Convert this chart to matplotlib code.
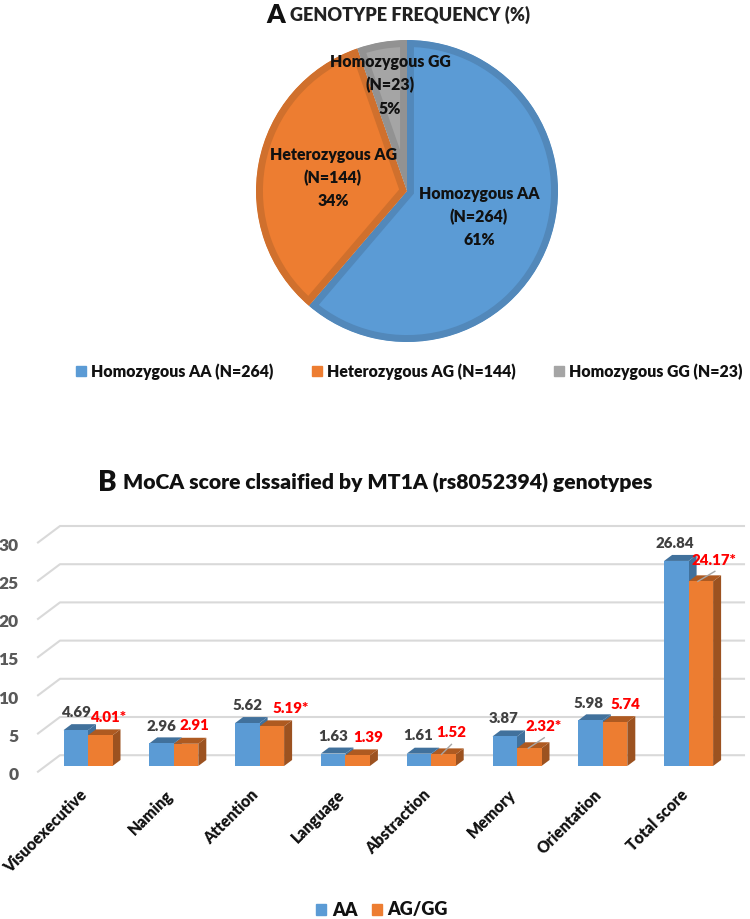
import numpy as np
import matplotlib
matplotlib.use("Agg")
import matplotlib.pyplot as plt
from matplotlib.patches import Polygon, Patch
from matplotlib.transforms import ScaledTranslation

# Panel A
genotypes = ["Homozygous AA (N=264)", "Heterozygous AG (N=144)", "Homozygous GG (N=23)"]
counts = [264, 144, 23]
pie_text = ["Homozygous AA\n(N=264)\n61%", "Heterozygous AG\n(N=144)\n34%", "Homozygous GG\n(N=23)\n5%"]

# Panel B
domains = ["Visuoexecutive", "Naming", "Attention", "Language", "Abstraction", "Memory", "Orientation", "Total score"]
aa = [4.69, 2.96, 5.62, 1.63, 1.61, 3.87, 5.98, 26.84]
ag = [4.01, 2.91, 5.19, 1.39, 1.52, 2.32, 5.74, 24.17]
ag_text = ["4.01*", "2.91", "5.19*", "1.39", "1.52", "2.32*", "5.74", "24.17*"]
yticks = [0, 5, 10, 15, 20, 25, 30]

plt.rcParams['font.family'] = ['Lato', 'DejaVu Sans']
plt.rcParams['font.weight'] = 'heavy'

W, H = 750, 919
fig = plt.figure(figsize=(7.5, 9.19), dpi=100)

def box(x0, y0, x1, y1):
    # pixel box, y counted from the top
    return [x0/W, 1-y1/H, (x1-x0)/W, (y1-y0)/H]

# ---- Panel A ----
cx, cy, r = 407, 191, 151
ax1 = fig.add_axes(box(cx-r, cy-r, cx+r, cy+r))
ax1.axis("off")
pie_cols = ["#5B9BD5", "#ED7D31", "#A5A5A5"]
pie_edges = ["#5288BA", "#D0702D", "#929292"]
wedges, _ = ax1.pie(counts, colors=pie_cols, startangle=90, counterclock=False, radius=1.0,
                    wedgeprops=dict(linewidth=10, joinstyle="miter"))
for w, c in zip(wedges, pie_edges):
    w.set_edgecolor(c)
    w.set_clip_on(True)
    w.set_clip_path(w)  # keeps the border strip inside its own slice
ax1.set_xlim(-1, 1)
ax1.set_ylim(-1, 1)
pie_pos = [(0.477, -0.172), (-0.49, 0.086), (-0.113, 0.70)]
for s, (px, py) in zip(pie_text, pie_pos):
    ax1.text(px, py, s, ha="center", va="center", fontsize=11.4, linespacing=1.55, color="#111111")

fig.text(266/W, 1-15/H, "A", fontsize=19, color="#111111", ha="left", va="center")
fig.text(290/W, 1-15/H, "GENOTYPE FREQUENCY (%)", fontsize=13.1, color="#222222", ha="left", va="center")

fig.legend(handles=[Patch(color=c, label=g) for c, g in zip(pie_cols, genotypes)],
           loc="center", bbox_to_anchor=(409.5/W, 1-371.5/H), ncol=3, frameon=False, fontsize=11.4,
           handlelength=0.63, handleheight=0.63, handletextpad=0.3, columnspacing=2.45,
           labelcolor="#111111")

# ---- Panel B ----
L, T, R, B = 30, 500, 750, 780
px_x, px_y = 85.8, 7.64
ax2 = fig.add_axes(box(L, T, R, B))
ax2.set_xlim((L-88)/px_x, (R-88)/px_x)
ax2.set_ylim((766-B)/px_y, (766-T)/px_y)
for s in ax2.spines.values():
    s.set_visible(False)
ax2.patch.set_alpha(0)

# back wall and floor lines
wall_dx, wall_dy = 22/px_x, 16.5/px_y
x_front, x_end = (38-88)/px_x, (744-88)/px_x
y_front = -5.7/px_y
for v in yticks:
    y0 = v+y_front
    ax2.plot([x_front, x_front+wall_dx, x_end], [y0, y0+wall_dy, y0+wall_dy],
             color="#D9D9D9", lw=1.5, clip_on=False, zorder=1, solid_joinstyle="round")

bw = 24.5/px_x
dx, dy = 8/px_x, 6/px_y

def bar3d(x0, v, front, top, side, z):
    x1 = x0+bw
    ax2.add_patch(Polygon([(x1, 0), (x1+dx, dy), (x1+dx, v+dy), (x1, v)], fc=side, ec="none", zorder=z))
    ax2.add_patch(Polygon([(x0, v), (x0+dx, v+dy), (x1+dx, v+dy), (x1, v)], fc=top, ec="none", zorder=z))
    ax2.bar(x0, v, width=bw, align="edge", color=front, edgecolor="none", zorder=z+0.5)

for i in range(len(domains)):
    bar3d(i-bw, aa[i], "#5B9BD5", "#41719C", "#41719C", 3)
    bar3d(i, ag[i], "#ED7D31", "#AE5A21", "#9C5220", 4)

aa_off = [(0, 18), (0, 17), (0, 17.5), (0, 17.5), (-1, 17.7), (-1.5, 17.5), (-2, 17), (-2, 17)]
ag_off = [(8, 17.4), (8, 18), (19, 18), (11, 18), (8, 22), (14, 22), (10, 18), (13, 21)]
for i in range(len(domains)):
    ax2.annotate(f"{aa[i]:.2f}", (i-bw/2, aa[i]), xytext=aa_off[i], textcoords="offset pixels",
                 ha="center", va="center", fontsize=10.8, color="#404040", zorder=6, annotation_clip=False)
    ax2.annotate(ag_text[i], (i+bw/2, ag[i]), xytext=ag_off[i], textcoords="offset pixels",
                 ha="center", va="center", fontsize=10.8, color="#FF0000", zorder=6, annotation_clip=False)

# leader lines for the moved labels
for i, (a, b, c, d) in {4: (-2, 0, 8, 10), 5: (-1, 0, 15, 10.5), 7: (-3, 0, 14, 10)}.items():
    x0 = i+bw/2
    ax2.plot([x0+a/px_x, x0+c/px_x], [ag[i]+b/px_y, ag[i]+d/px_y], color="#A6A6A6", lw=1, zorder=5)

ax2.set_yticks(yticks)
ax2.tick_params(axis="y", length=0, pad=8, labelsize=12.5, labelcolor="#595959")
shift = ScaledTranslation(0, -7.5/100, fig.dpi_scale_trans)
for lab in ax2.get_yticklabels():
    lab.set_transform(lab.get_transform()+shift)
ax2.set_xticks(range(len(domains)))
ax2.set_xticklabels(domains, rotation=45, ha="right", va="top", rotation_mode="anchor",
                    fontsize=11.3, color="#111111")
ax2.tick_params(axis="x", length=0, pad=5)
shift_x = ScaledTranslation(-9/100, 0, fig.dpi_scale_trans)
for lab in ax2.get_xticklabels():
    lab.set_transform(lab.get_transform()+shift_x)

fig.text(98/W, 1-483/H, "B", fontsize=20, color="#111111", ha="left", va="center")
fig.text(122.7/W, 1-483/H, "MoCA score clssaified by MT1A (rs8052394) genotypes", fontsize=15.2,
         color="#111111", ha="left", va="center")

fig.legend(handles=[Patch(color="#5B9BD5", label="AA"), Patch(color="#ED7D31", label="AG/GG")],
           loc="center", bbox_to_anchor=(382/W, 1-910/H), ncol=2, frameon=False, fontsize=13,
           handlelength=0.58, handleheight=0.58, handletextpad=0.3, columnspacing=0.8, labelcolor="#111111")

fig.savefig("out.png", dpi=100)
